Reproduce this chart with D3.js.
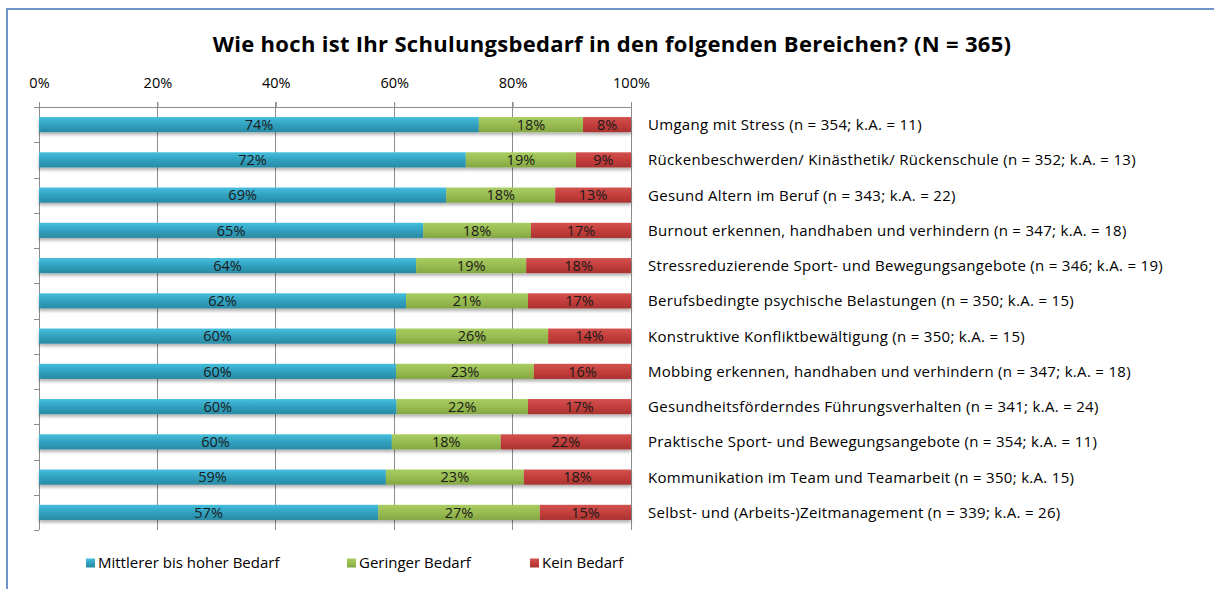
<!DOCTYPE html>
<html><head><meta charset="utf-8">
<script src="https://cdn.jsdelivr.net/npm/d3@7"></script>
<style>body{margin:0;background:#fff}svg{display:block}text{font-family:"Open Sans",sans-serif}</style>
</head><body>
<svg id="c" width="1214" height="589"></svg>
<script>
const categories = [
 "Umgang mit Stress (n = 354; k.A. = 11)",
 "Rückenbeschwerden/ Kinästhetik/ Rückenschule (n = 352; k.A. = 13)",
 "Gesund Altern im Beruf (n = 343; k.A. = 22)",
 "Burnout erkennen, handhaben und verhindern (n = 347; k.A. = 18)",
 "Stressreduzierende Sport- und Bewegungsangebote (n = 346; k.A. = 19)",
 "Berufsbedingte psychische Belastungen (n = 350; k.A. = 15)",
 "Konstruktive Konfliktbewältigung (n = 350; k.A. = 15)",
 "Mobbing erkennen, handhaben und verhindern (n = 347; k.A. = 18)",
 "Gesundheitsförderndes Führungsverhalten (n = 341; k.A. = 24)",
 "Praktische Sport- und Bewegungsangebote (n = 354; k.A. = 11)",
 "Kommunikation im Team und Teamarbeit (n = 350; k.A. 15)",
 "Selbst- und (Arbeits-)Zeitmanagement (n = 339; k.A. = 26)"
];
const seriesNames = ["Mittlerer bis hoher Bedarf","Geringer Bedarf","Kein Bedarf"];
const mittlerer = [74.3,72.1,68.8,64.9,63.7,62.0,60.3,60.3,60.4,59.6,58.6,57.3];
const geringer  = [17.6,18.6,18.4,18.2,18.6,20.6,25.7,23.3,22.2,18.4,23.3,27.3];
const kein      = [8.1, 9.3,12.8,16.9,17.7,17.4,14.0,16.4,17.4,22.0,18.1,15.4];
const tickValues = [0,20,40,60,80,100];
const title = "Wie hoch ist Ihr Schulungsbedarf in den folgenden Bereichen? (N = 365)";

const svg = d3.select("#c");
const defs = svg.append("defs");
const cols = [["#45bedd","#2f9fbd","#2a8aa4"],["#a8cc60","#97bb50","#84a643"],["#d2524f","#c23d3a","#a93331"]];
cols.forEach((c,i)=>{
  const g = defs.append("linearGradient").attr("id","g"+i).attr("x1",0).attr("x2",0).attr("y1",0).attr("y2",1);
  g.append("stop").attr("offset","0%").attr("stop-color",c[0]);
  g.append("stop").attr("offset","55%").attr("stop-color",c[1]);
  g.append("stop").attr("offset","100%").attr("stop-color",c[2]);
});
const sh = defs.append("filter").attr("id","sh").attr("x","-5%").attr("y","-50%").attr("width","110%").attr("height","250%");
sh.append("feDropShadow").attr("dx",0).attr("dy",2.5).attr("stdDeviation",1.5).attr("flood-color","#000").attr("flood-opacity",0.3);

// frame
svg.append("rect").attr("x",7).attr("y",9).attr("width",1230).attr("height",600)
  .attr("fill","none").attr("stroke","#7094c9").attr("stroke-width",2);

svg.append("text").attr("x",612).attr("y",52).attr("text-anchor","middle")
  .attr("font-size",22).attr("font-weight","bold").attr("letter-spacing",0.3).attr("fill","#000").text(title);

const x = d3.scaleLinear().domain([0,100]).range([39,631]);
const y = d3.scaleBand().domain(categories).range([107,530]).paddingInner(0.57).paddingOuter(0.285);
const band = (530-107)/categories.length;

// grid
const g = svg.append("g");
g.selectAll("line.grid").data(tickValues).join("line")
  .attr("x1",d=>x(d)).attr("x2",d=>x(d)).attr("y1",102).attr("y2",530)
  .attr("stroke","#8c8c8c").attr("stroke-width",1).attr("shape-rendering","crispEdges");
// top axis
const xAxis = d3.axisTop(x).tickValues(tickValues).tickFormat(d=>d+"%").tickSize(5).tickSizeOuter(0);
const ax = svg.append("g").attr("transform","translate(0,107)").call(xAxis);
ax.select(".domain").attr("stroke","#8c8c8c").attr("d","M34,0.5H631");
ax.selectAll(".tick line").attr("stroke","#8c8c8c");
ax.selectAll(".tick text").attr("font-size",14.5).attr("fill","#000").attr("dy","-0.75em")
  .attr("font-family","'Open Sans', sans-serif");
// left axis
svg.append("line").attr("x1",39.5).attr("x2",39.5).attr("y1",107).attr("y2",530).attr("stroke","#8c8c8c");
svg.selectAll("line.ltick").data(d3.range(categories.length+1)).join("line")
  .attr("x1",34).attr("x2",39).attr("y1",i=>Math.round(107+i*band)+0.5).attr("y2",i=>Math.round(107+i*band)+0.5)
  .attr("stroke","#8c8c8c");

const series = [mittlerer,geringer,kein];
const rows = categories.map((c,i)=>({c, v:series.map(s=>s[i])}));
rows.forEach(r=>{
  let acc=0;
  r.segs = r.v.map((v,k)=>{const s={k,v,x0:acc,x1:acc+v}; acc+=v; return s;});
});
const bars = svg.append("g");
const rg = bars.selectAll("g.row").data(rows).join("g").attr("filter","url(#sh)");
rg.selectAll("rect").data(d=>d.segs.map(s=>({...s,c:d.c}))).join("rect")
  .attr("x",s=>x(s.x0)).attr("width",s=>x(s.x1)-x(s.x0))
  .attr("y",s=>y(s.c)).attr("height",y.bandwidth())
  .attr("fill",s=>"url(#g"+s.k+")");
const lab = svg.append("g");
rows.forEach(r=>{
  lab.selectAll(null).data(r.segs).join("text")
    .attr("x",s=>(x(s.x0)+x(s.x1))/2).attr("y",y(r.c)+y.bandwidth()/2).attr("dy","0.36em")
    .attr("text-anchor","middle").attr("font-size",14.5).attr("fill","#1a1a1a")
    .text(s=>Math.round(s.v)+"%");
});
svg.append("g").selectAll("text").data(categories).join("text")
  .attr("x",648).attr("y",d=>y(d)+y.bandwidth()/2).attr("dy","0.36em")
  .attr("font-size",15).attr("letter-spacing",0.3).attr("fill","#000").text(d=>d);

// legend
const legX = [86,347,530];
const lg = svg.append("g").selectAll("g").data(seriesNames).join("g")
  .attr("transform",(d,i)=>`translate(${legX[i]},563)`);
lg.append("rect").attr("x",0).attr("y",-4.5).attr("width",9).attr("height",9).attr("fill",(d,i)=>"url(#g"+i+")");
lg.append("text").attr("x",12).attr("y",0).attr("dy","0.36em").attr("font-size",15).attr("fill","#000").text(d=>d);
</script>
</body></html>
